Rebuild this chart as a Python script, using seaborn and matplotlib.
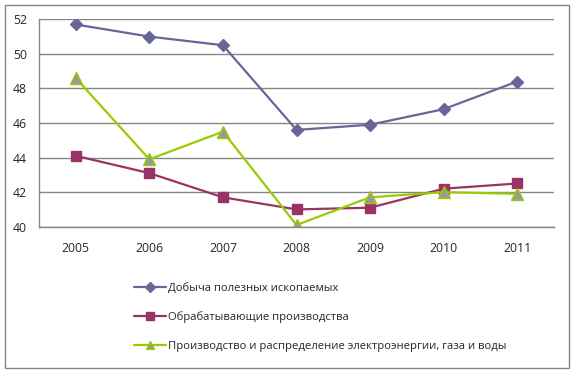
import numpy as np
import pandas as pd
import seaborn as sns
import matplotlib
matplotlib.use('Agg')
import matplotlib.pyplot as plt
from matplotlib.patches import Rectangle

# data
years = ['2005', '2006', '2007', '2008', '2009', '2010', '2011']
mining = [51.7, 51.0, 50.5, 45.6, 45.9, 46.8, 48.4]
manufacturing = [44.1, 43.1, 41.7, 41.0, 41.1, 42.2, 42.5]
energy = [48.6, 43.9, 45.5, 40.1, 41.7, 42.0, 41.9]

series_names = ['Добыча полезных ископаемых',
                'Обрабатывающие производства',
                'Производство и распределение электроэнергии, газа и воды']

sns.set_style('white')
plt.rcParams['font.family'] = ['Open Sans', 'DejaVu Sans']

df = pd.DataFrame({'pos': np.arange(len(years))})
for name, vals in zip(series_names, [mining, manufacturing, energy]):
    df[name] = vals

fig = plt.figure(figsize=(5.76, 3.74), dpi=100)
ax = fig.add_axes([39 / 576, 1 - 226.7 / 374, (554 - 39) / 576, (226.7 - 19.3) / 374])

styles = [
    dict(color='#666699', marker='D', markersize=6.5, markerfacecolor='#666699', markeredgecolor='#666699'),
    dict(color='#993366', marker='s', markersize=7, markerfacecolor='#993366', markeredgecolor='#993366'),
    dict(color='#99CC00', marker='^', markersize=8, markerfacecolor='#999999', markeredgecolor='#99CC00'),
]
for name, st in zip(series_names, styles):
    sns.lineplot(data=df, x='pos', y=name, ax=ax, label=name, linewidth=1.6,
                 markeredgewidth=1.0, **st)

ax.set_xlim(-0.5, len(years) - 0.5)
ax.set_ylim(40, 52)
ax.set_yticks(np.arange(40, 53, 2))
ax.set_xticks(np.arange(len(years)))
ax.set_xticklabels(years)
ax.set_xticks(np.arange(-0.5, len(years), 1), minor=True)
ax.tick_params(axis='x', which='major', length=0, pad=11, labelsize=8.8)
ax.tick_params(axis='x', which='minor', length=4, width=1, color='#868686', direction='out')
ax.tick_params(axis='y', length=4, width=1, color='#868686', direction='out', labelsize=8.8, pad=4.5)
ax.set_xlabel('')
ax.set_ylabel('')
ax.yaxis.grid(True, color='#868686', linewidth=1)
ax.set_axisbelow(True)
for side in ['top', 'right']:
    ax.spines[side].set_visible(False)
for side in ['left', 'bottom']:
    ax.spines[side].set_color('#868686')
    ax.spines[side].set_linewidth(1)

# legend below the plot, one entry per row
handles, labels = ax.get_legend_handles_labels()
ax.get_legend().remove()
fig.legend(handles, labels, loc='center left', bbox_to_anchor=(128 / 576, 1 - 317.5 / 374),
           frameon=False, fontsize=8.1, handlelength=2.9, handletextpad=0.2,
           labelspacing=1.6, borderpad=0, markerscale=0.8)

# outer chart frame
fig.patches.append(Rectangle((5 / 576, 1 - 368 / 374), 564 / 576, 363 / 374,
                             transform=fig.transFigure, fill=False,
                             edgecolor='#868686', linewidth=1))

fig.savefig('out.png', dpi=100)
